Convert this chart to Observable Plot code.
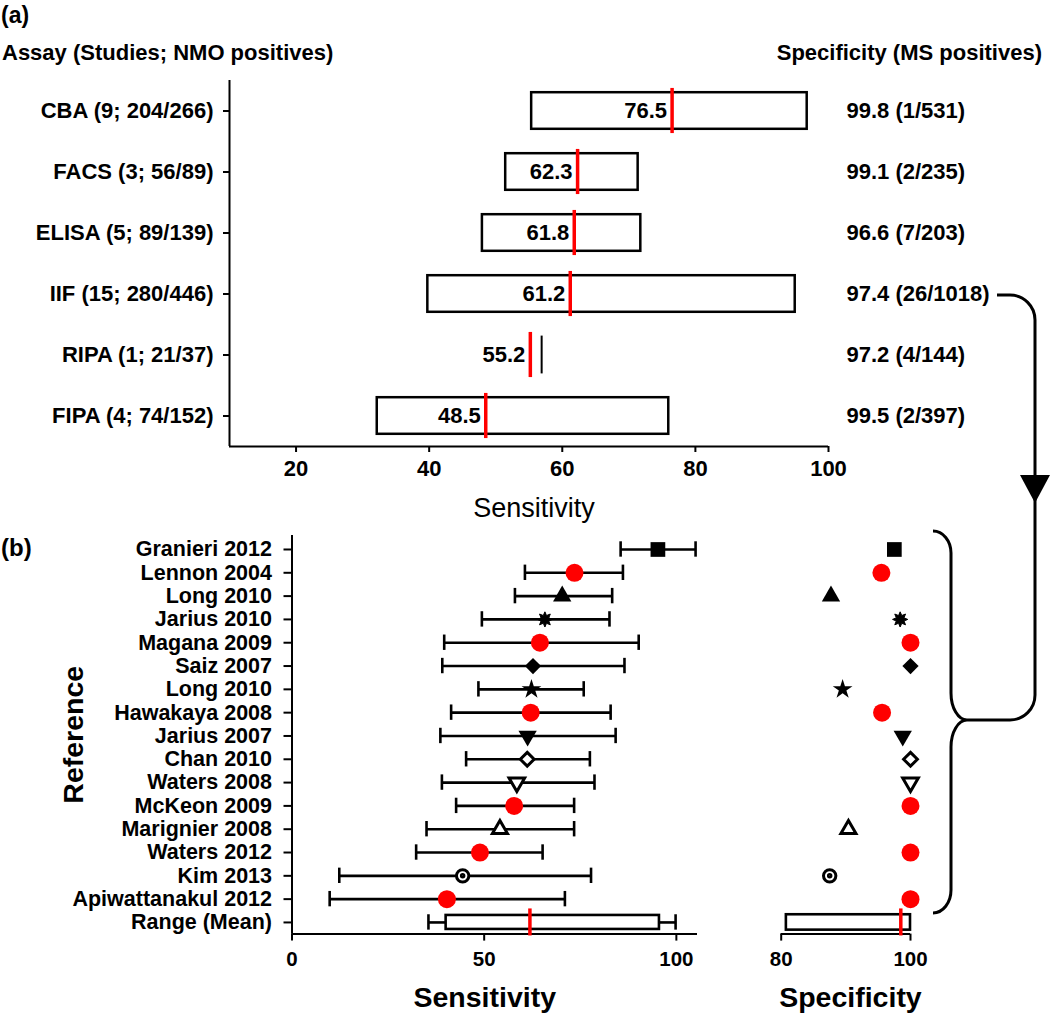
<!DOCTYPE html>
<html>
<head>
<meta charset="utf-8">
<script src="https://cdn.jsdelivr.net/npm/d3@7"></script>
<script src="https://cdn.jsdelivr.net/npm/@observablehq/plot@0.6"></script>
<style>
  body { margin: 0; background: #fff; }
  #wrap { position: relative; width: 1050px; height: 1013px; overflow: hidden; background: #fff;
          font-family: "Liberation Sans", Arial, sans-serif; }
  .layer { position: absolute; left: 0; }
  .layer svg { display: block; }
</style>
</head>
<body>
<div id="wrap"></div>
<script>
// ---------------- DATA ----------------
// Panel (a): pooled sensitivity by assay
const assayNames = ["CBA", "FACS", "ELISA", "IIF", "RIPA", "FIPA"];
const assayStudies = [9, 3, 5, 15, 1, 4];
const assayNmoPositives = ["204/266", "56/89", "89/139", "280/446", "21/37", "74/152"];
const assaySensMean = [76.5, 62.3, 61.8, 61.2, 55.2, 48.5];
const assaySensLow = [55.4, 51.5, 48.0, 39.8, 56.9, 32.2];
const assaySensHigh = [96.8, 71.4, 71.8, 95.0, 56.9, 76.0];
const assaySpec = [99.8, 99.1, 96.6, 97.4, 97.2, 99.5];
const assayMsPositives = ["1/531", "2/235", "7/203", "26/1018", "4/144", "2/397"];
const ticksA = [20, 40, 60, 80, 100];

// Panel (b): IIF studies
const studies = ["Granieri 2012", "Lennon 2004", "Long 2010", "Jarius 2010", "Magana 2009",
  "Saiz 2007", "Long 2010", "Hawakaya 2008", "Jarius 2007", "Chan 2010", "Waters 2008",
  "McKeon 2009", "Marignier 2008", "Waters 2012", "Kim 2013", "Apiwattanakul 2012"];
const studySens = [95.2, 73.5, 70.3, 65.8, 64.5, 62.7, 62.3, 62.1, 61.3, 61.2, 58.5, 57.8, 54.1, 48.9, 44.4, 40.3];
const studySensLow = [85.5, 60.6, 58.0, 49.4, 39.6, 39.1, 48.5, 41.4, 38.6, 45.3, 39.0, 42.7, 35.0, 32.3, 12.3, 9.8];
const studySensHigh = [105.0, 86.1, 83.3, 82.6, 90.2, 86.5, 75.9, 82.9, 84.2, 77.5, 78.7, 73.4, 73.4, 65.2, 77.8, 71.0];
const studySpec = [97.5, 95.5, 87.7, 98.4, 100, 100, 89.5, 95.6, 98.8, 100, 100, 100, 90.4, 100, 87.5, 100];
const rangeLabel = "Range (Mean)";
const sensRange = [35.5, 40.1, 95.6, 99.8];   // whisker low, box low, box high, whisker high
const sensRangeMean = 61.9;
const specRange = [80.8, 100];
const specRangeMean = 98.5;
const ticksSens = [0, 50, 100];
const ticksSpec = [80, 100];

// ---------------- STYLE ----------------
const RED = "#ff0000";
const FONT = "'Liberation Sans', Arial, sans-serif";
const markerOf = ["square", "redCircle", "triUp", "asterisk", "redCircle", "diamond", "star",
  "redCircle", "triDown", "diamondOpen", "triDownOpen", "redCircle", "triUpOpen", "redCircle",
  "circleDot", "redCircle"];

const sqrt3 = Math.sqrt(3);
const triangleDown = {
  draw(ctx, size) {
    const y = -Math.sqrt(size / (sqrt3 * 3));
    ctx.moveTo(0, -y * 2);
    ctx.lineTo(-sqrt3 * y, y);
    ctx.lineTo(sqrt3 * y, y);
    ctx.closePath();
  }
};
const asterisk8 = {
  draw(ctx, size) {
    const r = Math.sqrt(size / Math.PI), ri = r * 0.55;
    for (let k = 0; k < 16; ++k) {
      const a = k * Math.PI / 8 - Math.PI / 2, rr = k % 2 ? ri : r;
      const px = rr * Math.cos(a), py = rr * Math.sin(a);
      k ? ctx.lineTo(px, py) : ctx.moveTo(px, py);
    }
    ctx.closePath();
  }
};
const circleDot = {
  draw(ctx, size) {
    const r = Math.sqrt(size / Math.PI);
    ctx.moveTo(r, 0); ctx.arc(0, 0, r, 0, 2 * Math.PI);
    ctx.moveTo(r * 0.2, 0); ctx.arc(0, 0, r * 0.2, 0, 2 * Math.PI);
  }
};
const open = {fill: "white", stroke: "black", strokeWidth: 3};
const markerStyles = {
  redCircle: {symbol: "circle", r: 9, fill: RED},
  square: {symbol: "square", r: 8.3, fill: "black"},
  triUp: {symbol: "triangle", r: 6.8, fill: "black"},
  asterisk: {symbol: asterisk8, r: 7.6, fill: "black", stroke: "black", strokeWidth: 1},
  diamond: {symbol: "diamond2", r: 7.3, fill: "black"},
  star: {symbol: "star", r: 6.2, fill: "black"},
  triDown: {symbol: triangleDown, r: 6.8, fill: "black"},
  diamondOpen: {symbol: "diamond2", r: 6.2, ...open},
  triDownOpen: {symbol: triangleDown, r: 5.8, ...open},
  triUpOpen: {symbol: "triangle", r: 5.6, ...open},
  circleDot: {symbol: circleDot, r: 6.2, ...open}
};
const baseStyle = {fontFamily: FONT, fontSize: "22px", fontWeight: "bold", color: "black",
  background: "transparent", overflow: "visible"};

// ---------------- BUILD ----------------
const wrap = document.getElementById("wrap");
function place(node, top) {
  const d = document.createElement("div");
  d.className = "layer";
  d.style.top = top + "px";
  d.appendChild(node);
  wrap.appendChild(d);
}

// Panel (a)
const rowsA = assayNames.map((name, i) => ({
  i, label: `${name} (${assayStudies[i]}; ${assayNmoPositives[i]})`,
  mean: assaySensMean[i], lo: assaySensLow[i], hi: assaySensHigh[i],
  spec: `${assaySpec[i].toFixed(1)} (${assayMsPositives[i]})`
}));
const plotA = Plot.plot({
  width: 1050, height: 530, marginLeft: 229, marginRight: 222, marginTop: 80, marginBottom: 84,
  x: {domain: [10, 100]},
  y: {domain: [-0.5, assayNames.length - 0.5], reverse: true},
  style: baseStyle,
  marks: [
    Plot.ruleX([10], {strokeWidth: 2}),
    Plot.ruleY([assayNames.length - 0.5], {strokeWidth: 2}),
    Plot.axisY({ticks: d3.range(assayNames.length), tickFormat: i => rowsA[i].label, tickSize: 6,
      tickPadding: 10, label: null, strokeWidth: 2, fontSize: 22, fontWeight: "bold"}),
    Plot.axisX({ticks: ticksA, tickSize: 6, tickPadding: 8, label: null, strokeWidth: 2,
      fontSize: 22, fontWeight: "bold"}),
    Plot.rect(rowsA.filter(d => d.hi > d.lo), {x1: "lo", x2: "hi", y1: d => d.i - 0.3, y2: d => d.i + 0.3,
      fill: "white", stroke: "black", strokeWidth: 2.5}),
    Plot.ruleX(rowsA.filter(d => d.hi === d.lo), {x: "lo", y1: d => d.i - 0.31, y2: d => d.i + 0.31, strokeWidth: 2}),
    Plot.ruleX(rowsA, {x: "mean", y1: d => d.i - 0.37, y2: d => d.i + 0.37, stroke: RED, strokeWidth: 3.5}),
    Plot.text(rowsA, {x: "mean", y: "i", text: d => d.mean.toFixed(1), textAnchor: "end", dx: -5,
      fontSize: 22, fontWeight: "bold"}),
    Plot.text(rowsA, {y: "i", text: "spec", frameAnchor: "right", dx: 18, textAnchor: "start",
      fontSize: 22, fontWeight: "bold"}),
    Plot.text(["Sensitivity"], {text: d => d, frameAnchor: "bottom", dy: 62, dx: 5, fontSize: 27,
      fontWeight: "normal", lineAnchor: "middle"})
  ]
});
place(plotA, 0);

// Panel (b)
const rowsB = studies.map((name, i) => ({
  i, name, sens: studySens[i], lo: studySensLow[i], hi: studySensHigh[i], spec: studySpec[i], marker: markerOf[i]
}));
const rowLabels = [...studies, rangeLabel];
const rangeRow = studies.length;
const yB = {domain: [-0.6, rangeRow + 0.5], reverse: true};
const dotMarks = (field) => Object.entries(markerStyles).map(([k, s]) =>
  Plot.dot(rowsB.filter(d => d.marker === k), {x: field, y: "i", ...s}));

const plotSens = Plot.plot({
  width: 720, height: 513, marginLeft: 291.5, marginRight: 23, marginTop: 35, marginBottom: 79.4,
  x: {domain: [0, 105.5]}, y: yB,
  style: baseStyle,
  marks: [
    Plot.ruleX([0], {strokeWidth: 2}),
    Plot.ruleY([rangeRow + 0.5], {strokeWidth: 2}),
    Plot.axisY({ticks: d3.range(rowLabels.length), tickFormat: i => rowLabels[i], tickSize: 8,
      tickPadding: 12, label: null, strokeWidth: 2, fontSize: 21.5, fontWeight: "bold"}),
    Plot.axisX({ticks: ticksSens, tickSize: 7, tickPadding: 10, label: null, strokeWidth: 2,
      fontSize: 20.5, fontWeight: "bold"}),
    // study CIs
    Plot.ruleY(rowsB, {y: "i", x1: "lo", x2: "hi", strokeWidth: 2.6}),
    Plot.ruleX(rowsB, {x: "lo", y1: d => d.i - 0.33, y2: d => d.i + 0.33, strokeWidth: 2.6}),
    Plot.ruleX(rowsB, {x: "hi", y1: d => d.i - 0.33, y2: d => d.i + 0.33, strokeWidth: 2.6}),
    // range row
    Plot.ruleY([[sensRange[0], sensRange[1]], [sensRange[2], sensRange[3]]],
      {y: () => rangeRow, x1: d => d[0], x2: d => d[1], strokeWidth: 2.6}),
    Plot.ruleX([sensRange[0], sensRange[3]], {x: d => d, y1: rangeRow - 0.33, y2: rangeRow + 0.33, strokeWidth: 2.6}),
    Plot.rect([sensRange], {x1: d => d[1], x2: d => d[2], y1: rangeRow - 0.3, y2: rangeRow + 0.3,
      fill: "white", stroke: "black", strokeWidth: 2.6}),
    Plot.ruleX([sensRangeMean], {x: d => d, y1: rangeRow - 0.58, y2: rangeRow + 0.58, stroke: RED, strokeWidth: 3.5}),
    ...dotMarks("sens"),
    Plot.text(["Sensitivity"], {text: d => d, frameAnchor: "bottom", dy: 63.4, dx: -10, fontSize: 28.5,
      fontWeight: "bold", lineAnchor: "middle"}),
    Plot.text(["Reference"], {text: d => d, frameAnchor: "left", dx: -218.5, rotate: -90, fontSize: 28.5,
      fontWeight: "bold", lineAnchor: "middle", textAnchor: "middle"})
  ]
});
place(plotSens, 500);

const plotSpec = Plot.plot({
  width: 1050, height: 513, marginLeft: 780.7, marginRight: 140, marginTop: 35, marginBottom: 79.4,
  x: {domain: [80, 100]}, y: {...yB, axis: null},
  style: baseStyle,
  marks: [
    Plot.ruleY([rangeRow + 0.5], {strokeWidth: 2}),
    Plot.axisX({ticks: ticksSpec, tickSize: 7, tickPadding: 10, label: null, strokeWidth: 2,
      fontSize: 20.5, fontWeight: "bold"}),
    Plot.rect([specRange], {x1: d => d[0], x2: d => d[1], y1: rangeRow - 0.33, y2: rangeRow + 0.33,
      fill: "white", stroke: "black", strokeWidth: 2.6}),
    Plot.ruleX([specRangeMean], {x: d => d, y1: rangeRow - 0.58, y2: rangeRow + 0.58, stroke: RED, strokeWidth: 3.5}),
    ...dotMarks("spec"),
    Plot.text(["Specificity"], {text: d => d, frameAnchor: "bottom", dy: 63.4, dx: 4.6, fontSize: 28.5,
      fontWeight: "bold", lineAnchor: "middle"})
  ]
});
place(plotSpec, 500);

// Annotation overlay: panel letters, column headers, connecting arrow and brace
const ov = d3.create("svg").attr("width", 1050).attr("height", 1013)
  .style("font-family", FONT).style("font-weight", "bold");
ov.append("text").attr("x", 1).attr("y", 23).attr("font-size", 23).text("(a)");
ov.append("text").attr("x", 2).attr("y", 60).attr("font-size", 22).text("Assay (Studies; NMO positives)");
ov.append("text").attr("x", 1042).attr("y", 60).attr("font-size", 22).attr("text-anchor", "end")
  .text("Specificity (MS positives)");
ov.append("text").attr("x", 1).attr("y", 556).attr("font-size", 24).text("(b)");
ov.append("path").attr("fill", "none").attr("stroke", "black").attr("stroke-width", 3)
  .attr("d", "M997,295 H1010 A25,25 0 0 1 1035,320 V695 A25,25 0 0 1 1010,720 H967");
ov.append("path").attr("fill", "black").attr("d", "M1020,475 L1050,475 L1035,503 Z");
ov.append("path").attr("fill", "none").attr("stroke", "black").attr("stroke-width", 3)
  .attr("d", "M933,531 A18,22 0 0 1 951,553 V693 A16,27 0 0 0 967,720 A16,27 0 0 0 951,747 V890 A18,23 0 0 1 933,913");
place(ov.node(), 0);
</script>
</body>
</html>
